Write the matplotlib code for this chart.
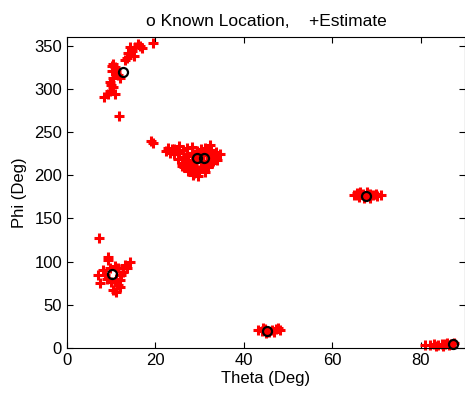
import matplotlib
matplotlib.use("Agg")
from matplotlib import pyplot as plt

plt.rcParams['font.family'] = ['Liberation Sans', 'DejaVu Sans']

# known source locations (theta, phi)
known_theta = [12.7, 29.4, 30.9, 10.2, 67.6, 45.2, 87.2]
known_phi = [320, 220, 220, 86, 176, 19.6, 4.6]

# estimates, read off the picture cluster by cluster
est_theta = [
    # near (13, 320)
    19.5, 16.1, 15.4, 14.2, 13.9, 15.2, 13.5, 13.1, 10.5, 10.8, 10.1, 11.2,
    10.5, 9.7, 10.5, 9.7, 10.8, 8.4, 9.3, 11.8, 11.0, 11.5, 10.2, 9.9, 12.0,
    14.8, 16.5, 17.0,
    # near (30, 220)
    19.4, 19.1,
    22.8, 24.3, 25.4, 27.2, 28.3, 30.4, 31.2, 32.3,
    22.5, 23.7, 25.1, 26.3, 28.2, 29.4, 31.3, 32.6, 33.7,
    24.2, 25.3, 27.1, 28.7, 29.8, 31.6, 33.2, 34.6,
    25.2, 26.4, 28.2, 29.6, 30.8, 32.3, 33.9,
    26.1, 27.4, 28.6, 30.3, 31.5, 32.8,
    26.5, 27.6, 29.1, 30.4, 31.8,
    27.3, 28.7, 29.9, 31.2,
    28.4, 29.6, 25.9, 23.2, 33.0, 27.9,
    # near (10, 86)
    7.2, 9.3, 9.3, 14.2, 7.1, 7.5, 11.2, 10.5, 12.0, 13.1, 12.7, 12.0, 8.6,
    9.7, 8.2, 11.6, 11.2, 10.8, 9.0, 13.5, 12.3, 10.0, 11.5,
    # near (68, 176)
    64.8, 65.5, 66.3, 67.0, 67.8, 68.5, 69.3, 70.0, 71.0, 66.0, 67.2, 68.6,
    65.6, 69.8,
    # near (45, 20)
    43.2, 44.0, 44.8, 45.6, 46.4, 47.2, 48.2, 45.0, 46.8, 44.3, 47.8,
    # near (87, 5)
    81.0, 82.0, 83.0, 84.0, 84.8, 85.5, 86.0, 86.8, 87.5, 83.5, 85.0, 86.3,
]
est_phi = [
    353, 352, 348, 348, 342, 338, 336, 333, 329, 325, 321, 319,
    313, 308, 302, 298, 294, 290, 294, 268, 323, 316, 326, 305, 312,
    344, 350, 347,
    237, 240,
    232, 230, 234, 231, 233, 230, 232, 235,
    228, 230, 227, 229, 226, 228, 227, 229, 227,
    224, 226, 222, 225, 223, 224, 222, 224,
    219, 221, 218, 220, 217, 219, 218,
    214, 216, 213, 215, 212, 214,
    209, 211, 208, 210, 209,
    205, 203, 206, 204,
    200, 199, 211, 226, 216, 207,
    127, 105, 102, 100, 84, 75, 65, 67, 71, 96, 88, 78.5, 84,
    92, 90, 92, 80, 95, 80, 93, 84, 76, 73,
    177, 179, 181, 178, 180, 178, 177, 176, 177, 175, 174, 174,
    176.5, 178.5,
    21, 20, 22, 18, 21, 22, 20.5, 17, 18.5, 23, 23,
    3, 3.5, 4, 3, 5, 4, 6, 5, 6, 2.5, 2, 3,
]

fig = plt.figure(figsize=(4.65, 3.94), dpi=100)
ax = fig.add_axes([0.144, 0.117, 0.856, 0.789])

ax.plot(est_theta, est_phi, '+', color='red', markersize=7, markeredgewidth=2.2,
        clip_on=False)
ax.plot(known_theta, known_phi, 'o', markerfacecolor='none', markeredgecolor='black',
        markersize=6.5, markeredgewidth=1.6, clip_on=False)

ax.set_xlim(0, 90)
ax.set_ylim(0, 360)
ax.set_xticks([0, 20, 40, 60, 80])
ax.set_yticks([0, 50, 100, 150, 200, 250, 300, 350])
ax.tick_params(direction='in', top=True, right=True, labelsize=12, length=4)
ax.set_xlabel('Theta (Deg)', fontsize=12, labelpad=2)
ax.set_ylabel('Phi (Deg)', fontsize=12, labelpad=5)
ax.set_title('o Known Location,    +Estimate', fontsize=12.5, pad=8)

fig.savefig('out.png', dpi=100)
